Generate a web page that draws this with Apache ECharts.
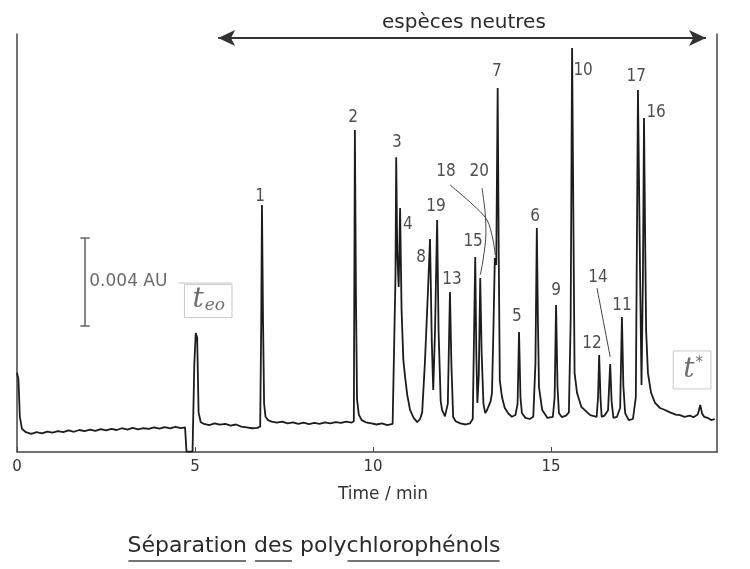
<!DOCTYPE html>
<html>
<head>
<meta charset="utf-8">
<title>Séparation des polychlorophénols</title>
<script src="https://cdn.jsdelivr.net/npm/echarts@6/dist/echarts.min.js"></script>
<style>
  html, body { margin: 0; padding: 0; background: #fff; }
  #chart { width: 750px; height: 569px; }
</style>
</head>
<body>
<div id="chart"></div>
<script>
// electropherogram trace, [time (min), absorbance (mAU)]
const trace = [
  [0.00, 3.6], [0.04, 3.3], [0.08, 1.6], [0.14, 1.05], [0.25, 0.9], [0.4, 0.82], [0.55, 0.9], [0.7, 0.85],
  [0.85, 0.93], [1.0, 0.88], [1.15, 0.95], [1.3, 0.9], [1.45, 0.98], [1.6, 0.92], [1.75, 1.0], [1.9, 0.95],
  [2.05, 1.02], [2.2, 0.96], [2.35, 1.04], [2.5, 0.98], [2.65, 1.05], [2.8, 1.0], [2.95, 1.08], [3.1, 1.02],
  [3.25, 1.1], [3.4, 1.03], [3.55, 1.08], [3.7, 1.05], [3.85, 1.12], [4.0, 1.06], [4.15, 1.13], [4.3, 1.07],
  [4.45, 1.14], [4.6, 1.08], [4.72, 1.12],
  [4.74, 1.1], [4.76, 0.02], [4.93, 0.02], [4.98, 4.0], [5.02, 5.41], [5.06, 5.2], [5.1, 1.8], [5.16, 1.35],
  [5.25, 1.28], [5.4, 1.22], [5.55, 1.3], [5.7, 1.24], [5.85, 1.28], [6.0, 1.2], [6.15, 1.25], [6.3, 1.15],
  [6.45, 1.12], [6.6, 1.08], [6.75, 1.1], [6.83, 1.15],
  [6.86, 6.0], [6.88, 11.23], [6.91, 6.0], [6.94, 2.2], [6.98, 1.6], [7.05, 1.45], [7.15, 1.38],
  [7.3, 1.33], [7.45, 1.38], [7.6, 1.3], [7.75, 1.35], [7.9, 1.28], [8.05, 1.33], [8.2, 1.27], [8.35, 1.32],
  [8.5, 1.28], [8.65, 1.35], [8.8, 1.3], [8.95, 1.36], [9.1, 1.32], [9.25, 1.38], [9.4, 1.34],
  [9.46, 1.4], [9.49, 14.64], [9.52, 7.0], [9.55, 2.4], [9.6, 1.7], [9.68, 1.45], [9.8, 1.35],
  [9.95, 1.3], [10.1, 1.25], [10.25, 1.3], [10.4, 1.22], [10.55, 1.28], [10.6, 1.3],
  [10.63, 8.0], [10.65, 13.4], [10.68, 9.0], [10.72, 7.5], [10.76, 11.09], [10.8, 6.5], [10.85, 4.2],
  [10.9, 3.4], [10.96, 2.6], [11.04, 1.91], [11.14, 1.55], [11.24, 1.36], [11.32, 1.5], [11.38, 1.8],
  [11.46, 4.18], [11.54, 7.23], [11.6, 9.68], [11.65, 5.0], [11.69, 2.82], [11.74, 5.5], [11.8, 10.55],
  [11.84, 5.5], [11.9, 2.3], [11.94, 1.9], [12.02, 1.62], [12.1, 2.2], [12.16, 7.27], [12.2, 4.0],
  [12.25, 1.59], [12.32, 1.4], [12.45, 1.3], [12.6, 1.25], [12.72, 1.3], [12.8, 1.5], [12.87, 8.86],
  [12.9, 4.5], [12.93, 2.23], [12.97, 3.5], [13.01, 7.91], [13.05, 4.5], [13.1, 2.2], [13.15, 1.77],
  [13.2, 1.9], [13.25, 1.85], [13.3, 2.3], [13.34, 2.68], [13.38, 5.5], [13.42, 8.82], [13.46, 8.5],
  [13.5, 16.55], [13.53, 9.0], [13.56, 3.27], [13.62, 2.5], [13.7, 2.0], [13.8, 1.75], [13.9, 1.6],
  [14.0, 1.68], [14.06, 2.2], [14.1, 5.45], [14.14, 2.5], [14.18, 1.77], [14.28, 1.55], [14.4, 1.5],
  [14.5, 1.6], [14.56, 4.0], [14.6, 10.18], [14.63, 6.0], [14.66, 2.95], [14.75, 1.91], [14.9, 1.55],
  [15.05, 1.6], [15.1, 2.5], [15.14, 6.68], [15.18, 3.0], [15.22, 1.77], [15.3, 1.59], [15.42, 1.65],
  [15.5, 1.8], [15.55, 6.0], [15.59, 18.36], [15.62, 12.0], [15.66, 3.59], [15.73, 2.68], [15.85, 2.05],
  [16.1, 1.68], [16.28, 1.6], [16.32, 2.5], [16.35, 4.41], [16.39, 2.4], [16.42, 1.6], [16.5, 1.65],
  [16.6, 1.9], [16.66, 4.0], [16.7, 2.3], [16.75, 1.55], [16.85, 1.6], [16.94, 2.0], [16.99, 6.14],
  [17.03, 3.0], [17.08, 1.77], [17.18, 1.45], [17.3, 1.5], [17.38, 2.5], [17.44, 16.45], [17.5, 8.0],
  [17.54, 3.05], [17.58, 8.0], [17.61, 15.18], [17.64, 10.0], [17.67, 5.5], [17.72, 3.59], [17.81, 2.68],
  [17.92, 2.23], [18.06, 2.0], [18.2, 1.91], [18.34, 1.8], [18.5, 1.7], [18.62, 1.68], [18.75, 1.6],
  [18.9, 1.65], [19.0, 1.58], [19.12, 1.7], [19.19, 2.14], [19.24, 1.75], [19.3, 1.6], [19.4, 1.55],
  [19.5, 1.45], [19.6, 1.5]
];

// peak numbers and where their labels sit (time, mAU)
const peakNames = ['1', '2', '3', '4', '8', '19', '13', '15', '18', '20', '7', '5', '6', '9', '10', '12', '14', '11', '17', '16'];
const peakLabelTime = [6.83, 9.44, 10.67, 10.98, 11.35, 11.77, 12.22, 12.81, 12.05, 12.98, 13.48, 14.04, 14.55, 15.14, 15.9, 16.15, 16.32, 16.99, 17.39, 17.95];
const peakLabelHeight = [11.59, 15.18, 14.05, 10.36, 8.86, 11.14, 7.82, 9.55, 12.73, 12.73, 17.27, 6.14, 10.68, 7.32, 17.36, 4.95, 7.91, 6.64, 17.05, 15.41];

// leader lines from labels 18, 20 and 14 down to their peaks
const leader18 = [[12.16, 12.14], [12.81, 11.23], [13.2, 10.55], [13.37, 9.64], [13.43, 8.95]];
const leader20 = [[13.06, 12.0], [13.15, 10.86], [13.17, 9.95], [13.09, 8.73], [13.01, 8.05]];
const leader14 = [[16.29, 7.45], [16.66, 4.32]];
// faint pencil line from "AU" to the t_eo box
const pencilLine = [[4.52, 7.68], [6.05, 7.68]];

// 0.004 AU scale bar
const scaleBarTime = 1.91;
const scaleBarLow = 5.73;
const scaleBarHigh = 9.73;
const scaleBarText = '0.004 AU';

// "espèces neutres" range arrow
const neutralStart = 5.65;
const neutralEnd = 19.35;
const neutralLevel = 18.82;

// t_eo and t* markers
const teoPos = [5.37, 6.86];
const tStarPos = [18.96, 3.73];

const xTicks = [0, 5, 10, 15];
const xMax = 19.66;
const yMax = 19;

const labelFont = "'Liberation Sans Narrow', 'DejaVu Sans Condensed', 'Liberation Sans', sans-serif";
const ink = '#1c1c1c';

const chart = echarts.init(document.getElementById('chart'));

const capHalf = 0.13;
const scaleBar = [
  [scaleBarTime, scaleBarLow], [scaleBarTime, scaleBarHigh], ['-', '-'],
  [scaleBarTime - capHalf, scaleBarHigh], [scaleBarTime + capHalf, scaleBarHigh], ['-', '-'],
  [scaleBarTime - capHalf, scaleBarLow], [scaleBarTime + capHalf, scaleBarLow]
];

function leaderSeries(points, color) {
  return {
    type: 'line',
    data: points,
    smooth: 0.3,
    showSymbol: false,
    silent: true,
    lineStyle: { color: color || '#444', width: 1 },
    z: 3
  };
}

// title pieces, some words underlined as in the scan
const titlePieces = [
  { text: 'Séparation', line: true },
  { text: ' ', line: false },
  { text: 'des', line: true },
  { text: ' poly', line: false },
  { text: 'chlorophénols', line: true }
];
const titleFont = "22px 'DejaVu Sans', sans-serif";
const measure = document.createElement('canvas').getContext('2d');
measure.font = titleFont;
const titleWidth = titlePieces.reduce((s, p) => s + measure.measureText(p.text).width, 0);
let tx = 314 - titleWidth / 2;
const titleGraphics = [];
titlePieces.forEach(p => {
  const w = measure.measureText(p.text).width;
  titleGraphics.push({
    type: 'text', left: tx, top: 535,
    style: { text: p.text, font: titleFont, fill: '#2a2a2a' }
  });
  if (p.line) {
    titleGraphics.push({
      type: 'line',
      shape: { x1: tx + 1, y1: 561, x2: tx + w - 1, y2: 561 },
      style: { stroke: '#444', lineWidth: 1.5 }
    });
  }
  tx += w;
});

chart.setOption({
  animation: false,
  backgroundColor: '#fff',
  grid: { left: 17, right: 33, top: 34, bottom: 117 },
  xAxis: {
    type: 'value',
    min: 0,
    max: xMax,
    interval: 5,
    name: 'Time / min',
    nameLocation: 'middle',
    nameGap: 34,
    nameTextStyle: { color: '#333', fontSize: 17, fontFamily: "'DejaVu Sans', sans-serif", padding: [0, 0, 0, 32] },
    axisLine: { lineStyle: { color: '#444', width: 1.5 } },
    axisTick: { inside: true, length: 5, lineStyle: { color: '#444' } },
    axisLabel: {
      color: '#333', fontSize: 15, margin: 8,
      fontFamily: "'DejaVu Sans', sans-serif",
      showMaxLabel: false,
      formatter: v => (xTicks.indexOf(v) >= 0 ? String(v) : '')
    },
    splitLine: { show: false }
  },
  yAxis: [
    {
      type: 'value', min: 0, max: yMax,
      axisLine: { show: true, lineStyle: { color: '#444', width: 1.5 } },
      axisTick: { show: false }, axisLabel: { show: false }, splitLine: { show: false }
    },
    {
      type: 'value', min: 0, max: yMax, position: 'right',
      axisLine: { show: true, lineStyle: { color: '#444', width: 1.5 } },
      axisTick: { show: false }, axisLabel: { show: false }, splitLine: { show: false }
    }
  ],
  graphic: [
    {
      type: 'text', left: 382, top: 13,
      style: { text: 'espèces neutres', font: "20px 'DejaVu Sans', sans-serif", fill: '#2a2a2a' }
    }
  ].concat(titleGraphics),
  series: [
    {
      name: 'trace',
      type: 'line',
      data: trace,
      showSymbol: false,
      silent: true,
      lineStyle: { color: ink, width: 1.8 },
      z: 4
    },
    {
      name: 'scale',
      type: 'line',
      data: scaleBar,
      showSymbol: false,
      connectNulls: false,
      silent: true,
      lineStyle: { color: '#666', width: 1.6 }
    },
    leaderSeries(pencilLine, '#c4c4c4'),
    {
      name: 'neutral',
      type: 'line',
      data: [],
      silent: true,
      markLine: {
        silent: true,
        symbol: ['arrow', 'arrow'],
        symbolSize: [12, 17],
        label: { show: false },
        lineStyle: { color: '#333', width: 2, type: 'solid' },
        data: [[{ coord: [neutralStart, neutralLevel] }, { coord: [neutralEnd, neutralLevel] }]]
      }
    },
    leaderSeries(leader18),
    leaderSeries(leader20),
    leaderSeries(leader14),
    {
      name: 'peaks',
      type: 'scatter',
      symbolSize: 0,
      silent: true,
      data: peakNames.map((n, i) => ({ name: n, value: [peakLabelTime[i], peakLabelHeight[i]] })),
      label: {
        show: true,
        position: 'inside',
        formatter: '{b}',
        color: '#222',
        fontSize: 17,
        fontFamily: labelFont
      },
      z: 5
    },
    {
      name: 'notes',
      type: 'scatter',
      symbolSize: 0,
      silent: true,
      data: [
        { name: 'scale', value: [scaleBarTime + 0.12, (scaleBarLow + scaleBarHigh) / 2] }
      ],
      label: {
        show: true,
        position: 'right',
        distance: 0,
        formatter: scaleBarText,
        color: '#444',
        fontSize: 17,
        fontFamily: "'DejaVu Sans', sans-serif"
      }
    },
    {
      name: 'markers',
      type: 'scatter',
      symbolSize: 0,
      silent: true,
      data: [
        { name: 'teo', value: teoPos, label: { formatter: '{t|t}{s|eo}', padding: [1, 7, 4, 8] } },
        { name: 'tstar', value: tStarPos, label: { formatter: '{t|t}{u|*}', padding: [5, 8, 5, 10] } }
      ],
      label: {
        show: true,
        position: 'inside',
        borderColor: '#bbb',
        borderWidth: 1,
        rich: {
          t: { fontFamily: "'DejaVu Serif', serif", fontStyle: 'italic', fontSize: 28, color: '#4a4a4a' },
          s: { fontFamily: "'DejaVu Serif', serif", fontStyle: 'italic', fontSize: 17, color: '#4a4a4a', verticalAlign: 'bottom', padding: [10, 0, 0, 1] },
          u: { fontFamily: "'DejaVu Sans', sans-serif", fontSize: 15, color: '#4a4a4a', verticalAlign: 'top', padding: [0, 0, 12, 1] }
        }
      },
      z: 5
    }
  ]
});
</script>
</body>
</html>
